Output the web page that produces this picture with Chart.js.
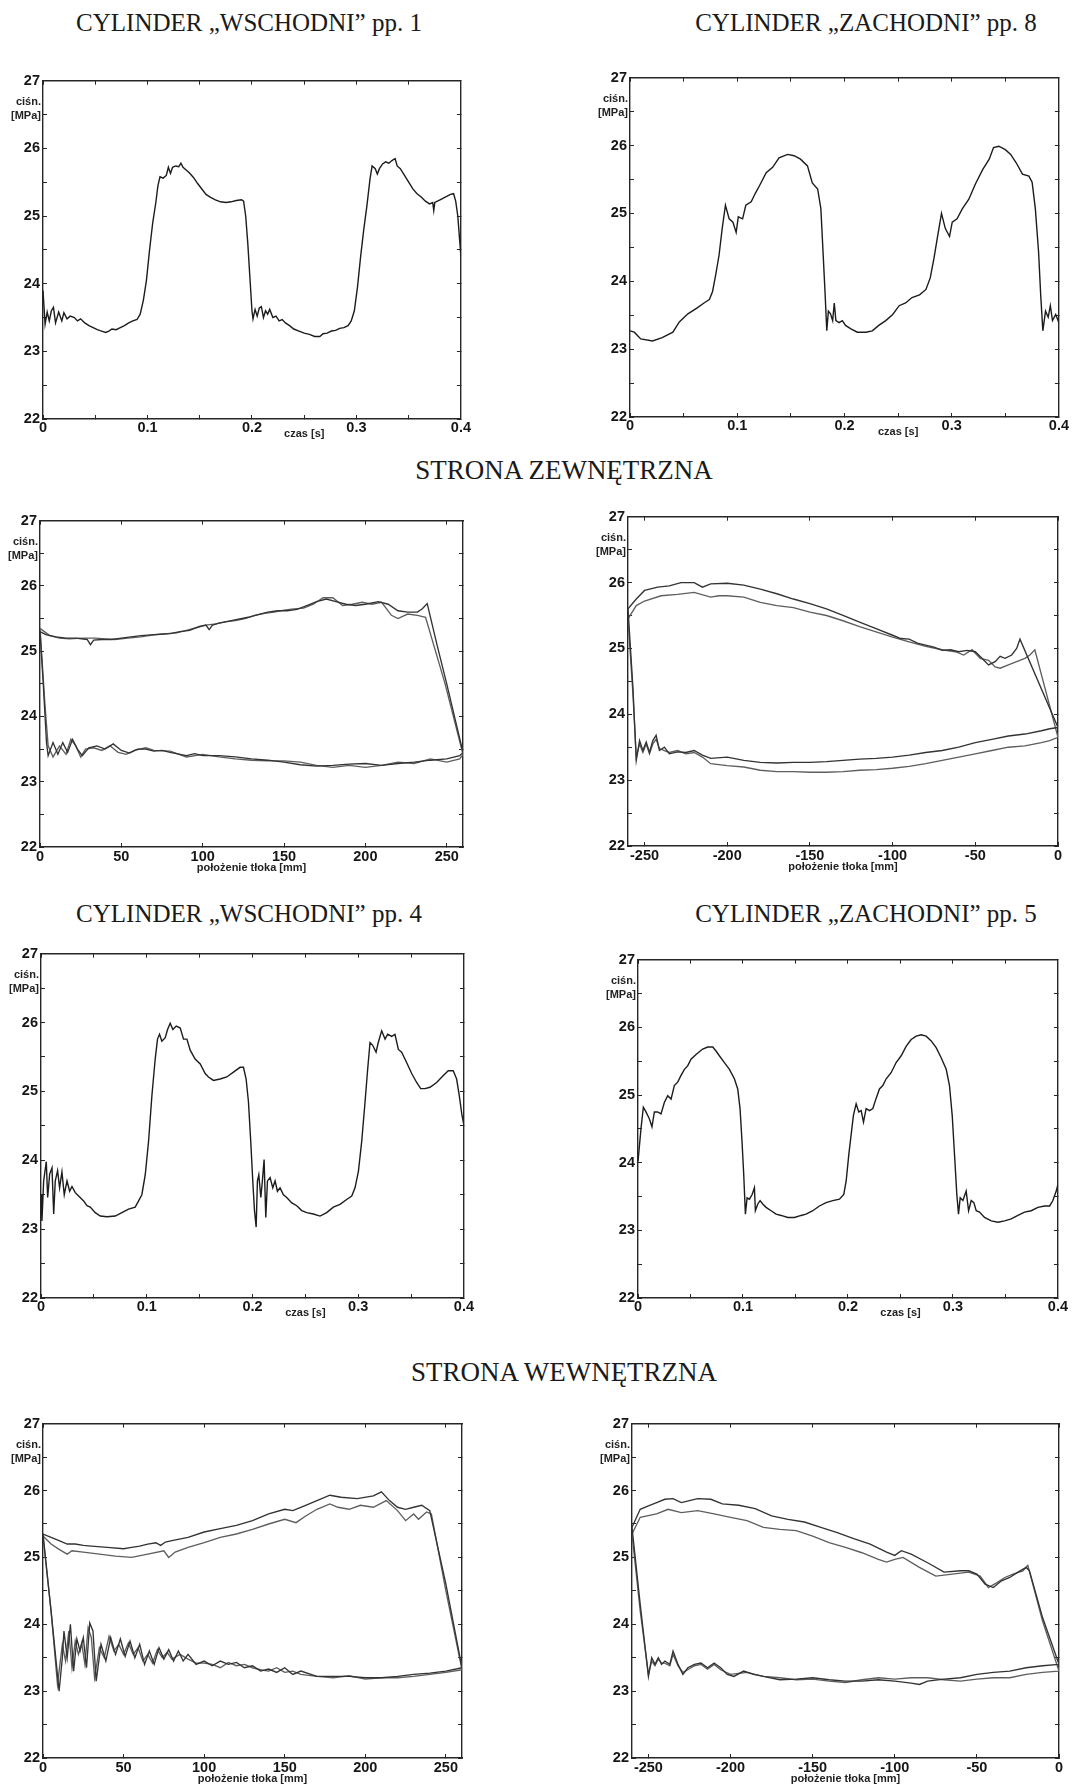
<!DOCTYPE html>
<html><head><meta charset="utf-8">
<script src="https://cdn.jsdelivr.net/npm/chart.js@4.4.1/dist/chart.umd.min.js"></script>
<style>
body{margin:0;background:#fff;}
#page{position:relative;width:1092px;height:1787px;overflow:hidden;background:#fff;}
#page canvas{position:absolute;}
.title{position:absolute;font-family:"Liberation Serif","Times New Roman",serif;font-size:25px;line-height:25px;color:#1a1a1a;white-space:nowrap;transform:translateX(-50%);}
.title.big{font-size:27px;line-height:27px;}
.ylab{position:absolute;font-family:"Liberation Sans",Arial,sans-serif;font-weight:bold;font-size:11px;line-height:14px;color:#222;text-align:right;white-space:nowrap;}
.xlab{position:absolute;font-family:"Liberation Sans",Arial,sans-serif;font-weight:bold;font-size:11px;line-height:14px;color:#222;white-space:nowrap;transform:translateX(-50%);}
</style></head>
<body><div id="page"></div>
<script>
// ---------- DATA ----------
const titles = ['CYLINDER \u201EWSCHODNI\u201D pp. 1','CYLINDER \u201EZACHODNI\u201D pp. 8','STRONA ZEWNĘTRZNA','CYLINDER \u201EWSCHODNI\u201D pp. 4','CYLINDER \u201EZACHODNI\u201D pp. 5','STRONA WEWNĘTRZNA'];
const yTicks = [22,23,24,25,26,27];
const timeTickLabels = ['0','0.1','0.2','0.3','0.4'];
const posTickLabelsR = ['0','50','100','150','200','250'];
const posTickLabelsL = ['-250','-200','-150','-100','-50','0'];
const yLabel = ['ciśn.','[MPa]'];
const timeLabel = 'czas [s]';
const posLabel = 'położenie tłoka [mm]';

// panel 1: time [s], pressure [MPa]
const p1_trace = [[0,23.9],[0.002,23.4],[0.004,23.58],[0.006,23.45],[0.008,23.6],[0.010,23.65],[0.012,23.42],[0.015,23.58],[0.018,23.45],[0.020,23.57],[0.023,23.48],[0.026,23.52],[0.030,23.5],[0.033,23.45],[0.036,23.48],[0.040,23.42],[0.044,23.38],[0.048,23.35],[0.052,23.32],[0.056,23.3],[0.060,23.28],[0.063,23.3],[0.066,23.33],[0.070,23.32],[0.074,23.35],[0.078,23.38],[0.082,23.42],[0.086,23.45],[0.090,23.47],[0.093,23.55],[0.096,23.75],[0.099,24.05],[0.102,24.5],[0.105,24.9],[0.108,25.2],[0.110,25.45],[0.112,25.58],[0.115,25.56],[0.118,25.6],[0.120,25.72],[0.122,25.63],[0.124,25.72],[0.127,25.74],[0.130,25.73],[0.132,25.78],[0.134,25.72],[0.137,25.68],[0.140,25.64],[0.144,25.57],[0.148,25.48],[0.152,25.4],[0.156,25.32],[0.160,25.28],[0.165,25.24],[0.170,25.21],[0.175,25.2],[0.180,25.21],[0.185,25.23],[0.190,25.24],[0.192,25.22],[0.194,25.0],[0.196,24.6],[0.198,24.1],[0.200,23.6],[0.201,23.48],[0.203,23.62],[0.205,23.52],[0.207,23.64],[0.209,23.66],[0.211,23.5],[0.213,23.6],[0.215,23.55],[0.217,23.62],[0.220,23.5],[0.223,23.52],[0.226,23.45],[0.229,23.47],[0.232,23.42],[0.236,23.38],[0.240,23.33],[0.245,23.3],[0.250,23.27],[0.255,23.25],[0.260,23.22],[0.265,23.22],[0.268,23.26],[0.272,23.27],[0.276,23.3],[0.280,23.31],[0.284,23.34],[0.288,23.35],[0.292,23.38],[0.295,23.45],[0.298,23.6],[0.301,23.95],[0.304,24.4],[0.307,24.8],[0.310,25.15],[0.313,25.55],[0.315,25.74],[0.318,25.7],[0.320,25.62],[0.322,25.7],[0.325,25.77],[0.328,25.8],[0.331,25.78],[0.334,25.82],[0.337,25.85],[0.339,25.74],[0.342,25.7],[0.346,25.6],[0.350,25.5],[0.354,25.4],[0.358,25.33],[0.362,25.28],[0.366,25.22],[0.370,25.18],[0.373,25.2],[0.374,25.08],[0.375,25.2],[0.380,25.24],[0.385,25.28],[0.390,25.32],[0.393,25.33],[0.395,25.22],[0.397,25.0],[0.399,24.6],[0.400,24.4]];

// panel 2
const p2_trace = [[0,23.27],[0.004,23.25],[0.010,23.15],[0.021,23.12],[0.030,23.17],[0.040,23.25],[0.046,23.4],[0.054,23.52],[0.062,23.6],[0.069,23.68],[0.074,23.73],[0.077,23.85],[0.080,24.1],[0.083,24.38],[0.086,24.78],[0.089,25.12],[0.0925,24.92],[0.096,24.87],[0.099,24.72],[0.101,24.95],[0.105,24.92],[0.108,25.12],[0.113,25.17],[0.117,25.3],[0.1205,25.4],[0.127,25.6],[0.133,25.68],[0.139,25.82],[0.147,25.87],[0.153,25.85],[0.159,25.8],[0.1655,25.7],[0.170,25.45],[0.175,25.36],[0.178,25.07],[0.180,24.44],[0.182,23.8],[0.1835,23.27],[0.185,23.56],[0.187,23.52],[0.189,23.42],[0.1905,23.68],[0.192,23.42],[0.195,23.39],[0.198,23.42],[0.201,23.35],[0.206,23.3],[0.212,23.25],[0.220,23.25],[0.226,23.27],[0.232,23.35],[0.2385,23.42],[0.245,23.51],[0.251,23.64],[0.257,23.68],[0.263,23.76],[0.270,23.8],[0.276,23.88],[0.280,24.05],[0.2835,24.34],[0.2865,24.63],[0.2905,25.0],[0.294,24.78],[0.298,24.66],[0.3005,24.87],[0.305,24.92],[0.310,25.07],[0.316,25.21],[0.322,25.43],[0.329,25.65],[0.335,25.8],[0.339,25.97],[0.344,25.99],[0.350,25.94],[0.355,25.87],[0.360,25.75],[0.366,25.58],[0.372,25.55],[0.375,25.46],[0.378,25.07],[0.381,24.44],[0.383,23.8],[0.385,23.27],[0.3875,23.56],[0.390,23.47],[0.392,23.64],[0.394,23.42],[0.397,23.51],[0.400,23.39]];

// panel 5 (pp. 4)
const p5_trace = [[0,23.5],[0.0009,23.12],[0.0025,23.7],[0.005,23.98],[0.0063,23.46],[0.0082,23.8],[0.0104,23.89],[0.012,23.22],[0.0135,23.7],[0.0157,23.85],[0.0176,23.6],[0.0198,23.83],[0.022,23.5],[0.0246,23.7],[0.0271,23.55],[0.0293,23.62],[0.0324,23.53],[0.0356,23.48],[0.0403,23.41],[0.0435,23.34],[0.0466,23.32],[0.0513,23.24],[0.0561,23.19],[0.0624,23.18],[0.0702,23.19],[0.0765,23.24],[0.0828,23.29],[0.0891,23.32],[0.0923,23.41],[0.0954,23.5],[0.0986,23.79],[0.1017,24.27],[0.1049,24.94],[0.108,25.47],[0.1102,25.76],[0.1121,25.83],[0.1143,25.73],[0.1175,25.78],[0.1197,25.9],[0.1222,25.99],[0.1247,25.9],[0.1279,25.95],[0.1317,25.92],[0.1348,25.76],[0.138,25.76],[0.1411,25.6],[0.1458,25.47],[0.1506,25.4],[0.1553,25.26],[0.1584,25.21],[0.1631,25.16],[0.1694,25.18],[0.1757,25.21],[0.182,25.28],[0.1883,25.35],[0.1915,25.35],[0.194,25.18],[0.1962,24.85],[0.1984,24.27],[0.2003,23.7],[0.2019,23.27],[0.2035,23.03],[0.2047,23.7],[0.206,23.79],[0.2079,23.46],[0.2094,23.7],[0.211,24.01],[0.2126,23.17],[0.2142,23.7],[0.2167,23.75],[0.2192,23.6],[0.2214,23.7],[0.2236,23.55],[0.2261,23.6],[0.2293,23.5],[0.2324,23.46],[0.2372,23.38],[0.2419,23.34],[0.2466,23.27],[0.2513,23.24],[0.2576,23.22],[0.2639,23.19],[0.2702,23.24],[0.2765,23.32],[0.2828,23.36],[0.2891,23.43],[0.2939,23.48],[0.297,23.6],[0.3002,23.84],[0.3033,24.27],[0.3065,24.85],[0.309,25.33],[0.3112,25.71],[0.3137,25.67],[0.3169,25.57],[0.319,25.71],[0.3222,25.88],[0.3254,25.76],[0.3279,25.83],[0.3317,25.8],[0.3348,25.83],[0.338,25.61],[0.3411,25.57],[0.3458,25.42],[0.3506,25.26],[0.3553,25.13],[0.3591,25.04],[0.3631,25.04],[0.3679,25.06],[0.3742,25.13],[0.3805,25.23],[0.3852,25.3],[0.3899,25.3],[0.3931,25.18],[0.3956,24.94],[0.3981,24.66],[0.4,24.51]];

// panel 6 (pp. 5)
const p6_trace = [[0,24.02],[0.0029,24.51],[0.0051,24.82],[0.0076,24.75],[0.0108,24.65],[0.0133,24.53],[0.0156,24.75],[0.0187,24.75],[0.0219,24.72],[0.0251,24.89],[0.0283,24.99],[0.0315,24.94],[0.0346,25.14],[0.0378,25.19],[0.041,25.29],[0.0442,25.38],[0.0473,25.43],[0.0505,25.53],[0.0553,25.6],[0.0616,25.68],[0.0664,25.71],[0.0712,25.71],[0.0743,25.65],[0.0775,25.58],[0.0823,25.48],[0.0871,25.38],[0.0918,25.24],[0.095,25.09],[0.0972,24.8],[0.0991,24.31],[0.1007,23.83],[0.1023,23.24],[0.1039,23.48],[0.1061,23.46],[0.1087,23.53],[0.1109,23.63],[0.1118,23.29],[0.1141,23.39],[0.1163,23.44],[0.1188,23.39],[0.122,23.34],[0.1268,23.29],[0.1315,23.24],[0.1363,23.22],[0.1427,23.19],[0.149,23.19],[0.1554,23.22],[0.1601,23.24],[0.1665,23.29],[0.1728,23.36],[0.1792,23.41],[0.1855,23.44],[0.1919,23.46],[0.196,23.53],[0.1983,23.73],[0.2008,24.12],[0.203,24.41],[0.2052,24.7],[0.2078,24.87],[0.2103,24.75],[0.2126,24.77],[0.2148,24.6],[0.2173,24.8],[0.2205,24.77],[0.2237,24.8],[0.2268,24.95],[0.23,25.09],[0.2332,25.14],[0.2364,25.24],[0.2411,25.33],[0.2459,25.48],[0.2507,25.58],[0.2554,25.72],[0.2602,25.82],[0.265,25.87],[0.2697,25.89],[0.2745,25.87],[0.2793,25.8],[0.284,25.7],[0.2888,25.55],[0.2936,25.38],[0.2967,25.14],[0.2993,24.7],[0.3015,24.12],[0.3037,23.53],[0.3053,23.24],[0.3069,23.48],[0.3095,23.44],[0.3126,23.58],[0.3149,23.29],[0.3174,23.44],[0.3199,23.41],[0.3222,23.29],[0.3253,23.27],[0.3301,23.19],[0.3365,23.14],[0.3428,23.12],[0.3492,23.14],[0.3555,23.17],[0.3619,23.22],[0.3682,23.27],[0.3746,23.29],[0.3809,23.34],[0.3873,23.36],[0.3921,23.36],[0.3952,23.44],[0.3984,23.58],[0.4,23.68]];

// panel 3: piston position [mm], pressure — two cycles (lower branch, then upper branch)
const p3_A_lower = [[0,25.3],[2,24.5],[4,23.6],[5,23.4],[8,23.6],[11,23.42],[14,23.6],[17,23.45],[20,23.65],[23,23.5],[26,23.4],[30,23.52],[35,23.55],[40,23.5],[45,23.58],[50,23.48],[55,23.44],[60,23.5],[65,23.5],[70,23.47],[75,23.48],[80,23.45],[90,23.4],[95,23.43],[100,23.4],[110,23.4],[120,23.38],[130,23.35],[140,23.33],[150,23.3],[160,23.26],[170,23.24],[180,23.25],[190,23.27],[200,23.28],[210,23.25],[220,23.28],[230,23.3],[240,23.33],[250,23.35],[258,23.4],[260,23.45]];
const p3_A_upper = [[250,24.5],[244,25.1],[238,25.73],[235,25.65],[232,25.6],[226,25.6],[220,25.62],[214,25.72],[208,25.76],[200,25.72],[194,25.7],[188,25.72],[182,25.76],[176,25.8],[170,25.76],[164,25.7],[158,25.64],[152,25.62],[146,25.62],[140,25.6],[134,25.56],[128,25.52],[122,25.49],[116,25.46],[110,25.43],[106,25.4],[104,25.33],[102,25.4],[98,25.38],[92,25.32],[86,25.3],[80,25.27],[74,25.26],[68,25.25],[62,25.24],[56,25.22],[50,25.2],[44,25.18],[38,25.18],[33,25.17],[31,25.1],[29,25.18],[22,25.2],[16,25.2],[10,25.22],[4,25.25],[0,25.3]];
const p3_B_lower = [[0,25.35],[3,24.2],[5,23.55],[8,23.38],[12,23.55],[16,23.42],[19,23.65],[22,23.55],[25,23.38],[28,23.5],[33,23.52],[38,23.48],[43,23.55],[48,23.45],[53,23.42],[58,23.48],[65,23.52],[70,23.48],[80,23.47],[90,23.38],[100,23.42],[110,23.38],[120,23.35],[130,23.33],[140,23.32],[150,23.32],[160,23.3],[170,23.25],[180,23.22],[190,23.25],[200,23.22],[210,23.25],[220,23.3],[230,23.28],[240,23.35],[250,23.3],[258,23.35],[260,23.42]];
const p3_B_upper = [[249,24.5],[237,25.52],[232,25.55],[226,25.57],[220,25.5],[216,25.55],[210,25.75],[204,25.72],[198,25.75],[192,25.72],[186,25.7],[180,25.82],[174,25.82],[168,25.72],[162,25.66],[156,25.65],[150,25.63],[144,25.6],[138,25.58],[132,25.55],[126,25.5],[120,25.47],[114,25.45],[108,25.42],[102,25.4],[96,25.36],[90,25.32],[84,25.28],[78,25.27],[70,25.25],[62,25.22],[54,25.2],[46,25.18],[40,25.19],[34,25.2],[26,25.2],[18,25.19],[12,25.2],[6,25.24],[0,25.35]];

// panel 4
const p4_A_lower = [[-260,25.6],[-257,24.4],[-255,23.3],[-253,23.6],[-251,23.45],[-249,23.58],[-247,23.42],[-245,23.6],[-243,23.68],[-241,23.45],[-238,23.5],[-235,23.4],[-230,23.43],[-225,23.42],[-220,23.45],[-215,23.38],[-210,23.33],[-200,23.35],[-190,23.3],[-180,23.27],[-170,23.26],[-160,23.27],[-150,23.27],[-140,23.28],[-130,23.3],[-120,23.32],[-110,23.33],[-100,23.35],[-90,23.38],[-80,23.42],[-70,23.45],[-60,23.5],[-50,23.57],[-40,23.62],[-30,23.67],[-20,23.7],[-10,23.75],[-5,23.78],[0,23.8]];
const p4_A_upper = [[-23,25.14],[-25,25.0],[-28,24.9],[-32,24.85],[-35,24.88],[-38,24.8],[-42,24.75],[-46,24.85],[-50,24.95],[-55,24.97],[-60,24.95],[-65,24.98],[-70,24.97],[-75,25.02],[-80,25.05],[-85,25.08],[-90,25.14],[-95,25.15],[-100,25.2],[-110,25.3],[-120,25.4],[-130,25.5],[-140,25.6],[-150,25.68],[-160,25.75],[-170,25.83],[-180,25.9],[-190,25.96],[-200,25.99],[-210,25.98],[-215,25.93],[-220,26.0],[-228,26.0],[-235,25.95],[-242,25.93],[-250,25.88],[-255,25.75],[-260,25.6]];
const p4_B_lower = [[-260,25.45],[-257,24.3],[-255,23.35],[-253,23.55],[-251,23.42],[-249,23.55],[-247,23.4],[-245,23.55],[-243,23.62],[-241,23.48],[-238,23.45],[-235,23.42],[-230,23.45],[-225,23.4],[-220,23.42],[-215,23.35],[-210,23.25],[-200,23.22],[-190,23.2],[-180,23.15],[-170,23.13],[-160,23.13],[-150,23.12],[-140,23.12],[-130,23.13],[-120,23.15],[-110,23.16],[-100,23.18],[-90,23.21],[-80,23.25],[-70,23.3],[-60,23.35],[-50,23.4],[-40,23.45],[-30,23.5],[-20,23.52],[-10,23.57],[-5,23.6],[0,23.65]];
const p4_B_upper = [[-14,24.98],[-17,24.9],[-20,24.85],[-25,24.8],[-30,24.75],[-35,24.7],[-38,24.72],[-42,24.82],[-47,24.85],[-52,24.98],[-57,24.9],[-62,24.95],[-70,24.98],[-80,25.03],[-90,25.1],[-100,25.17],[-110,25.25],[-120,25.33],[-130,25.42],[-140,25.5],[-150,25.55],[-160,25.62],[-170,25.65],[-180,25.7],[-190,25.78],[-200,25.8],[-205,25.8],[-210,25.78],[-220,25.85],[-230,25.82],[-240,25.8],[-250,25.72],[-255,25.65],[-260,25.45]];

// panel 7
const p7_A_lower = [[0,25.35],[5,24.2],[10,23.0],[12,23.5],[13,23.9],[15,23.5],[17,24.0],[19,23.3],[21,23.78],[23,23.6],[25,23.8],[27,23.35],[29,24.02],[31,23.9],[33,23.15],[36,23.7],[39,23.45],[42,23.8],[45,23.55],[48,23.78],[51,23.52],[54,23.75],[57,23.5],[60,23.7],[63,23.4],[66,23.6],[69,23.4],[72,23.65],[75,23.48],[78,23.62],[81,23.45],[84,23.6],[87,23.45],[90,23.55],[95,23.4],[100,23.45],[105,23.38],[110,23.45],[115,23.4],[120,23.43],[125,23.35],[130,23.38],[135,23.3],[140,23.33],[145,23.28],[150,23.35],[155,23.25],[160,23.3],[170,23.22],[180,23.22],[190,23.22],[200,23.2],[210,23.2],[220,23.22],[230,23.25],[240,23.27],[250,23.3],[260,23.35]];
const p7_A_upper = [[250,24.6],[240,25.7],[235,25.78],[230,25.75],[225,25.72],[220,25.75],[215,25.85],[210,25.98],[205,25.92],[195,25.88],[185,25.9],[178,25.93],[170,25.85],[160,25.75],[155,25.7],[150,25.72],[140,25.65],[130,25.55],[120,25.48],[110,25.43],[100,25.38],[90,25.3],[80,25.25],[76,25.23],[73,25.18],[70,25.22],[65,25.2],[60,25.17],[55,25.15],[50,25.13],[40,25.15],[30,25.17],[25,25.18],[20,25.2],[15,25.2],[10,25.25],[5,25.3],[0,25.35]];
const p7_B_lower = [[0,25.32],[5,24.2],[9,23.1],[12,23.7],[14,23.45],[16,23.9],[18,23.35],[20,23.75],[22,23.55],[24,23.72],[26,23.4],[28,23.95],[30,23.8],[32,23.2],[35,23.65],[38,23.5],[41,23.82],[44,23.6],[47,23.7],[50,23.55],[53,23.72],[56,23.55],[59,23.65],[62,23.45],[65,23.55],[68,23.42],[71,23.62],[74,23.5],[77,23.58],[80,23.48],[85,23.55],[90,23.48],[95,23.42],[100,23.42],[105,23.4],[110,23.35],[115,23.43],[120,23.38],[125,23.4],[130,23.35],[135,23.32],[140,23.3],[145,23.35],[150,23.28],[155,23.3],[160,23.25],[170,23.22],[180,23.2],[190,23.23],[200,23.18],[210,23.2],[220,23.2],[230,23.22],[240,23.25],[250,23.28],[260,23.32]];
const p7_B_upper = [[250,24.5],[241,25.65],[238,25.68],[233,25.57],[230,25.65],[225,25.55],[220,25.7],[213,25.85],[205,25.75],[197,25.78],[190,25.72],[183,25.75],[178,25.8],[170,25.72],[163,25.62],[157,25.52],[150,25.57],[140,25.5],[130,25.42],[120,25.35],[110,25.3],[100,25.22],[90,25.15],[82,25.08],[78,25.0],[75,25.1],[65,25.05],[55,25.0],[45,25.02],[35,25.05],[25,25.08],[18,25.1],[15,25.05],[10,25.12],[5,25.2],[0,25.32]];

// panel 8
const p8_A_lower = [[-260,25.45],[-255,24.3],[-250,23.22],[-248,23.5],[-246,23.4],[-244,23.5],[-242,23.4],[-240,23.45],[-237,23.4],[-235,23.6],[-232,23.4],[-229,23.25],[-226,23.35],[-222,23.4],[-218,23.42],[-214,23.35],[-210,23.42],[-206,23.35],[-202,23.25],[-198,23.22],[-192,23.3],[-186,23.25],[-180,23.22],[-170,23.17],[-160,23.18],[-150,23.2],[-140,23.17],[-130,23.15],[-120,23.15],[-110,23.17],[-100,23.15],[-90,23.12],[-85,23.1],[-80,23.15],[-70,23.18],[-60,23.2],[-50,23.25],[-40,23.28],[-30,23.3],[-20,23.35],[-10,23.38],[0,23.4]];
const p8_A_upper = [[-10,24.1],[-18,24.8],[-20,24.85],[-25,24.78],[-30,24.7],[-35,24.65],[-40,24.55],[-45,24.6],[-50,24.75],[-55,24.8],[-60,24.8],[-70,24.78],[-80,24.92],[-90,25.05],[-96,25.1],[-100,25.03],[-105,25.08],[-115,25.2],[-125,25.28],[-135,25.37],[-145,25.45],[-155,25.53],[-165,25.57],[-175,25.62],[-185,25.73],[-195,25.78],[-205,25.8],[-212,25.87],[-220,25.88],[-225,25.85],[-230,25.82],[-235,25.88],[-240,25.87],[-245,25.82],[-250,25.77],[-255,25.72],[-260,25.45]];
const p8_B_lower = [[-260,25.35],[-255,24.2],[-250,23.25],[-248,23.45],[-246,23.38],[-244,23.48],[-242,23.42],[-240,23.42],[-237,23.38],[-235,23.55],[-232,23.38],[-229,23.28],[-226,23.32],[-222,23.38],[-218,23.4],[-214,23.33],[-210,23.4],[-206,23.32],[-200,23.25],[-190,23.28],[-180,23.22],[-170,23.2],[-160,23.17],[-150,23.18],[-140,23.15],[-130,23.13],[-120,23.17],[-110,23.2],[-100,23.18],[-90,23.2],[-80,23.2],[-70,23.17],[-60,23.15],[-50,23.18],[-40,23.2],[-30,23.2],[-20,23.25],[-10,23.28],[0,23.3]];
const p8_B_upper = [[-10,24.05],[-19,24.88],[-22,24.8],[-28,24.75],[-33,24.7],[-38,24.62],[-43,24.55],[-48,24.72],[-55,24.78],[-65,24.75],[-75,24.72],[-85,24.85],[-95,25.0],[-100,24.97],[-105,24.93],[-110,24.97],[-120,25.07],[-130,25.15],[-140,25.22],[-150,25.32],[-160,25.4],[-170,25.42],[-180,25.45],[-190,25.55],[-200,25.6],[-210,25.65],[-220,25.7],[-230,25.67],[-238,25.72],[-245,25.65],[-255,25.6],[-260,25.35]];

// ---------- LAYOUT (positions, sizes) ----------
const page = document.getElementById('page');
const SANS = '"Liberation Sans", Arial, Helvetica, sans-serif';
const INK = '#262626';

const titlePos = [[249,10,''],[866,10,''],[564,457,'big'],[249,901,''],[866,901,''],[564,1359,'big']];
titles.forEach((t,i)=>{
  const d=document.createElement('div'); d.className='title '+titlePos[i][2]; d.textContent=t;
  d.style.left=titlePos[i][0]+'px'; d.style.top=titlePos[i][1]+'px'; page.appendChild(d);
});

const panels = [
  {L:43, T:77, R:461, B:419, kind:'time', min:0, max:0.4, series:[p1_trace]},
  {L:630,T:74, R:1059,B:417, kind:'time', min:0, max:0.4, series:[p2_trace]},
  {L:40, T:517,R:463, B:847, kind:'pos', min:0, max:260, series:[[p3_A_lower,p3_A_upper],[p3_B_lower,p3_B_upper]], labels:posTickLabelsR},
  {L:628,T:513,R:1058,B:846, kind:'pos', min:-260, max:0, series:[[p4_A_lower,p4_A_upper],[p4_B_lower,p4_B_upper]], labels:posTickLabelsL},
  {L:41, T:950,R:464, B:1298,kind:'time', min:0, max:0.4, series:[p5_trace]},
  {L:638,T:956,R:1058,B:1298,kind:'time', min:0, max:0.4, series:[p6_trace]},
  {L:43, T:1420,R:462,B:1758,kind:'pos', min:0, max:260, series:[[p7_A_lower,p7_A_upper],[p7_B_lower,p7_B_upper]], labels:posTickLabelsR},
  {L:632,T:1420,R:1059,B:1758,kind:'pos', min:-260, max:0, series:[[p8_A_lower,p8_A_upper],[p8_B_lower,p8_B_upper]], labels:posTickLabelsL}
];

function toPts(arr){ return arr.map(a=>({x:a[0], y:a[1]})); }

function buildScales(pn){
  const isTime = pn.kind==='time';
  const step = isTime ? 0.05 : 50;
  const tickFont = {family:SANS, size:14.5, weight:'bold'};
  const border = {display:true, color:INK, width:1.4};
  const grid = {display:true, drawOnChartArea:false, drawTicks:true, tickLength:-4, color:INK, lineWidth:1};
  const xCb = (v)=>{
    const s = isTime ? String(Math.round(v*100)/100) : String(Math.round(v));
    if (isTime) return timeTickLabels.includes(s) ? s : '';
    return pn.labels.includes(s) ? s : '';
  };
  const yCb = (v)=> yTicks.includes(v) ? String(v) : '';
  return {
    x: {type:'linear', position:'bottom', min:pn.min, max:pn.max, border, grid,
        ticks:{stepSize:step, autoSkip:false, maxRotation:0, minRotation:0, includeBounds:false,
               padding: isTime?4:5, color:'#161616', font:tickFont, callback:xCb},
        title: isTime ? {display:false} : {display:true, text:posLabel, color:'#222',
               font:{family:SANS, size:11, weight:'bold'}, padding:{top:0,bottom:8}},
        afterFit: s=>{ s.height = isTime?22:36; }},
    x2: {type:'linear', position:'top', min:pn.min, max:pn.max, border, grid,
        ticks:{display:false, stepSize:step, autoSkip:false, includeBounds:false},
        afterFit: s=>{ s.height = 0; }},
    y: {type:'linear', position:'left', min:22, max:27, border, grid,
        ticks:{stepSize:0.5, autoSkip:false, padding:7, color:'#161616', font:tickFont, callback:yCb},
        afterFit: s=>{ s.width = 38; }},
    y2: {type:'linear', position:'right', min:22, max:27, border, grid,
        ticks:{display:false, stepSize:0.5, autoSkip:false},
        afterFit: s=>{ s.width = 0; }}
  };
}

panels.forEach(pn=>{
  const yW=38, padT=12, padR=14, bH = pn.kind==='time'?22:36;
  const w=(pn.R-pn.L)+yW+padR, h=(pn.B-pn.T)+padT+bH;
  const c=document.createElement('canvas');
  c.width=w; c.height=h; c.style.width=w+'px'; c.style.height=h+'px';
  c.style.left=(pn.L-yW)+'px'; c.style.top=(pn.T-padT)+'px';
  page.appendChild(c);
  let datasets;
  if (pn.kind==='time') {
    datasets = pn.series.map(s=>({data:toPts(s), showLine:true, borderColor:'#1c1c1c', borderWidth:1.4, pointRadius:0, tension:0, fill:false}));
  } else {
    const cols=['#333333','#5e5e5e'];
    datasets = pn.series.map((loop,i)=>({data:toPts(loop[0].concat(loop[1])), showLine:true, borderColor:cols[i], borderWidth:1.35, pointRadius:0, tension:0, fill:false}));
  }
  new Chart(c.getContext('2d'), {
    type:'scatter', data:{datasets},
    options:{responsive:false, animation:false, devicePixelRatio:1, events:[],
      layout:{padding:{top:padT, right:padR, left:0, bottom:0}},
      plugins:{legend:{display:false}, tooltip:{enabled:false}},
      scales: buildScales(pn)}
  });
  const yl=document.createElement('div'); yl.className='ylab';
  yl.innerHTML = yLabel[0]+'<br>'+yLabel[1];
  yl.style.right=(1092-(pn.L-2))+'px'; yl.style.top=(pn.T+17)+'px'; page.appendChild(yl);
  if (pn.kind==='time') {
    const xl=document.createElement('div'); xl.className='xlab'; xl.textContent=timeLabel;
    xl.style.left=(pn.L+0.625*(pn.R-pn.L))+'px'; xl.style.top=(pn.B+7)+'px'; page.appendChild(xl);
  }
});
</script>
</body></html>
